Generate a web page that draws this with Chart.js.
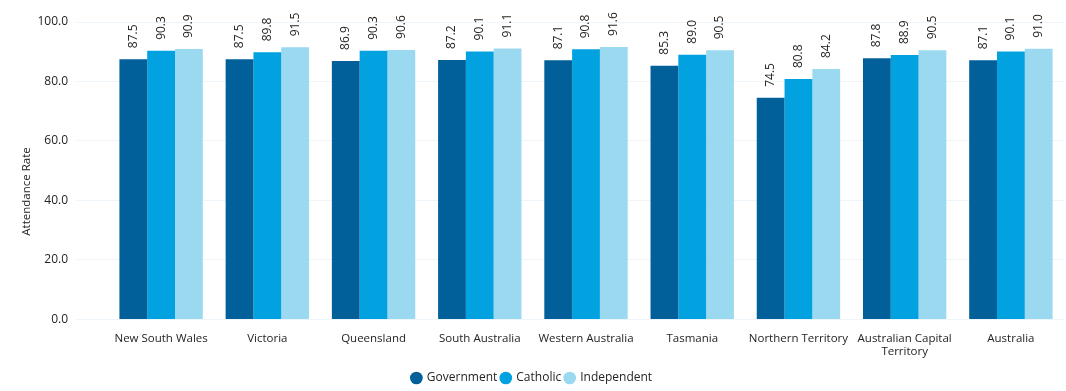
<!DOCTYPE html>
<html>
<head>
<meta charset="utf-8">
<script src="https://cdn.jsdelivr.net/npm/chart.js@4/dist/chart.umd.min.js"></script>
<style>
  html, body { margin: 0; padding: 0; background: #fff; }
  #wrap { width: 1066px; height: 391px; }
</style>
</head>
<body>
<div id="wrap"><canvas id="chart"></canvas></div>
<script>
// attendance rate by state and school sector
const states = ["New South Wales", "Victoria", "Queensland", "South Australia", "Western Australia",
  "Tasmania", "Northern Territory", ["Australian Capital", "Territory"], "Australia"];
const government = [87.5, 87.5, 86.9, 87.2, 87.1, 85.3, 74.5, 87.8, 87.1];
const catholic = [90.3, 89.8, 90.3, 90.1, 90.8, 89.0, 80.8, 88.9, 90.1];
const independent = [90.9, 91.5, 90.6, 91.1, 91.6, 90.5, 84.2, 90.5, 91.0];
const yTicks = [0, 20, 40, 60, 80, 100];
const yTitle = 'Attendance Rate';

const FONT = '"Segoe UI", "Open Sans", "Noto Sans", sans-serif';
const TEXT = '#252423';

// rotated value labels above each bar + y title centred on the whole visual
const barLabels = {
  id: 'barLabels',
  afterDatasetsDraw(chart) {
    const ctx = chart.ctx;
    ctx.save();
    ctx.font = '12px ' + FONT;
    ctx.fillStyle = TEXT;
    ctx.textAlign = 'left';
    ctx.textBaseline = 'middle';
    chart.data.datasets.forEach((ds, i) => {
      chart.getDatasetMeta(i).data.forEach((bar, j) => {
        ctx.save();
        ctx.translate(bar.x, bar.y - 11);
        ctx.rotate(-Math.PI / 2);
        ctx.fillText(ds.data[j].toFixed(1), 0, 0);
        ctx.restore();
      });
    });
    ctx.font = '11.5px ' + FONT;
    ctx.textAlign = 'center';
    ctx.translate(27, chart.height / 2 - 4);
    ctx.rotate(-Math.PI / 2);
    ctx.fillText(yTitle, 0, 0);
    ctx.restore();
  }
};

new Chart(document.getElementById('chart'), {
  type: 'bar',
  data: {
    labels: states,
    datasets: [
      { label: 'Government', data: government, backgroundColor: '#01609a' },
      { label: 'Catholic', data: catholic, backgroundColor: '#02a1df' },
      { label: 'Independent', data: independent, backgroundColor: '#9bd9f1' }
    ]
  },
  options: {
    responsive: true,
    maintainAspectRatio: false,
    animation: false,
    datasets: { bar: { categoryPercentage: 0.785, barPercentage: 1, borderWidth: 0 } },
    layout: { padding: { top: 22, right: 2, left: 0, bottom: -3 } },
    plugins: {
      legend: {
        position: 'bottom',
        labels: {
          usePointStyle: true, pointStyle: 'circle', boxWidth: 9, boxHeight: 9,
          padding: 4, color: TEXT, font: { family: FONT, size: 12 }
        }
      },
      tooltip: { enabled: false }
    },
    scales: {
      x: {
        afterFit: axis => { axis.height += 5; },
        grid: { display: false },
        border: { display: false },
        ticks: { color: TEXT, font: { family: FONT, size: 11.5 }, maxRotation: 0, autoSkip: false, padding: 4 }
      },
      y: {
        min: 0, max: 100,
        afterBuildTicks: axis => { axis.ticks = yTicks.map(v => ({ value: v })); },
        afterFit: axis => { axis.width = 108; },
        grid: { color: '#eef5fa', tickColor: '#eef5fa', tickLength: 31 },
        border: { display: false },
        ticks: { color: TEXT, font: { family: FONT, size: 12 }, padding: 9, callback: v => v.toFixed(1) }
      }
    }
  },
  plugins: [barLabels]
});
</script>
</body>
</html>
